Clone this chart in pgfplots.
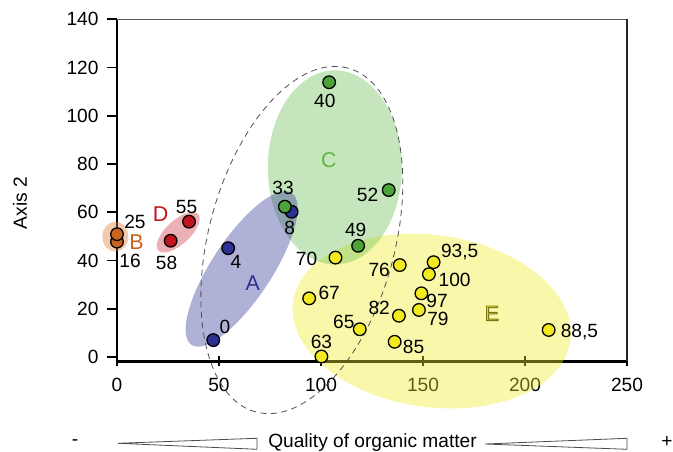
\documentclass[border=0pt]{standalone}
\usepackage{fontspec}
\setmainfont{Liberation Sans}
\usepackage{pgfplots}
\pgfplotsset{compat=1.18}
\usetikzlibrary{shapes.geometric}

\definecolor{cAm}{RGB}{46,49,146}
\definecolor{cBm}{RGB}{200,100,30}
\definecolor{cDm}{RGB}{193,22,30}
\definecolor{cCm}{RGB}{76,163,56}
\definecolor{cEm}{RGB}{242,234,30}
\definecolor{cAe}{RGB}{46,49,146}
\definecolor{cBe}{RGB}{220,130,60}
\definecolor{cDe}{RGB}{200,40,50}
\definecolor{cCe}{RGB}{93,185,70}
\definecolor{cEe}{RGB}{240,236,40}
\definecolor{cCl}{RGB}{100,180,70}
\definecolor{cEl}{RGB}{232,226,60}

\newcommand{\lbl}{\fontsize{19.2}{21}\selectfont}
\newcommand{\biglbl}{\fontsize{21.5}{23}\selectfont}

\tikzset{
  grp/.style={ellipse, draw=none, inner sep=0pt, outer sep=0pt},
  num/.style={font=\lbl, inner sep=0pt, anchor=center},
}
\pgfplotsset{
  pts/.style={only marks, mark=*, mark size=6.3bp,
    mark options={fill=#1, draw=black, line width=1.3bp}},
}

\begin{document}
\begin{tikzpicture}
\begin{axis}[
  scale only axis, width=510bp, height=342.2bp,
  xmin=0, xmax=250, ymin=-1.87, ymax=140,
  axis x line=bottom, axis y line=left,
  axis line style={-, line width=2.2bp, black},
  xtick={0,50,...,250}, ytick={0,20,...,140},
  tick style={line width=1.8bp, black},
  major tick length=10bp,
  xtick align=center, ytick align=outside,
  /pgf/number format/assume math mode=true,
  ticklabel style={font=\lbl},
  xticklabel style={yshift=-8bp},
  yticklabel style={xshift=-5bp},
  clip=false,
]
% group areas
\node[grp, fill=cEe, fill opacity=0.4, minimum width=280bp, minimum height=172bp, rotate=-8] at (axis cs:154.3,14.9) {};
\node[grp, fill=cCe, fill opacity=0.36, minimum width=134bp, minimum height=194bp] at (axis cs:106.8,78.6) {};
\node[grp, fill=cAe, fill opacity=0.38, minimum width=182bp, minimum height=60bp, rotate=56.6] at (axis cs:61.1,36.5) {};
\node[grp, fill=cBe, fill opacity=0.42, minimum width=26bp, minimum height=30bp] at (axis cs:-0.8,49.9) {};
\node[grp, fill=cDe, fill opacity=0.36, minimum width=54bp, minimum height=24bp, rotate=42.5] at (axis cs:30.0,51.7) {};
\node[grp, draw={rgb,255:red,80;green,80;blue,80}, line width=0.8bp, dash pattern=on 6bp off 4.5bp, minimum width=356bp, minimum height=186bp, rotate=75] at (axis cs:90.6,48.5) {};

% points
\addplot[pts=cAm] coordinates {(47.2,7.0) (54.5,45.1) (85.6,60.2)};
\addplot[pts=cBm] coordinates {(0,47.8) (0,50.9)};
\addplot[pts=cDm] coordinates {(35.3,56.1) (26.3,48.2)};
\addplot[pts=cCm] coordinates {(104.0,113.9) (82.3,62.3) (133.2,69.2) (118.2,46.1)};
\addplot[pts=cEm] coordinates {
  (107.1,41.2) (94.2,24.3) (100.2,0.2) (119.0,11.5) (138.6,38.1)
  (155.2,39.3) (152.9,34.3) (149.2,26.4) (148.0,19.5) (138.2,17.1)
  (136.1,6.3) (211.6,11.2)};

% point labels
\node[num] at (axis cs:52.9,12.6) {0};
\node[num] at (axis cs:58.3,39.5) {4};
\node[num] at (axis cs:84.7,53.6) {8};
\node[num] at (axis cs:81.4,69.9) {33};
\node[num] at (axis cs:34.1,62.1) {55};
\node[num] at (axis cs:24.3,39.1) {58};
\node[num] at (axis cs:8.8,55.8) {25};
\node[num] at (axis cs:6.4,39.8) {16};
\node[num] at (axis cs:101.9,106.3) {40};
\node[num] at (axis cs:122.8,67.2) {52};
\node[num] at (axis cs:117.0,52.7) {49};
\node[num] at (axis cs:92.9,40.5) {70};
\node[num] at (axis cs:104.0,26.4) {67};
\node[num] at (axis cs:111.2,14.6) {65};
\node[num] at (axis cs:100.2,6.3) {63};
\node[num] at (axis cs:128.5,36.1) {76};
\node[num] at (axis cs:128.5,20.2) {82};
\node[num] at (axis cs:145.4,4.3) {85};
\node[num] at (axis cs:157.3,15.6) {79};
\node[num] at (axis cs:156.9,23.3) {97};
\node[num] at (axis cs:165.5,31.9) {100};
\node[num] at (axis cs:168.0,43.7) {93,5};
\node[num] at (axis cs:226.7,10.5) {88,5};

% group letters
\node[font=\biglbl, text=cAm, inner sep=0pt] at (axis cs:66.5,30.6) {A};
\node[font=\biglbl, text=cBm, inner sep=0pt] at (axis cs:9.6,47.8) {B};
\node[font=\biglbl, text=cCl, inner sep=0pt] at (axis cs:103.8,81.7) {C};
\node[font=\biglbl, text=cDm, inner sep=0pt] at (axis cs:21.4,59.3) {D};
\node[font=\biglbl, text=cEl, inner sep=0pt] at (axis cs:183.8,18.1)
  {\special{pdf:literal direct 2 Tr 0.9 w 0.49 0.46 0.08 RG}E\special{pdf:literal direct 0 Tr}};
\end{axis}

\begin{scope}[shift={(current axis.south west)}, x=1bp, y=1bp]
  \path (-117,-90.5) rectangle (556,361.5);
  \draw[line width=1.2bp, black!65] (0,342.2) -- (510,342.2);
  \draw[line width=1.8bp, black!85] (510,342.2) -- (510,0);
  \node[font=\lbl, rotate=90, inner sep=0pt] at (-97,158.5) {Axis 2};
  \node[font=\lbl, inner sep=0pt] at (-42,-81.5) {-};
  \node[font=\lbl, inner sep=0pt] at (550,-80.5) {+};
  \node[font=\lbl, inner sep=0pt, anchor=base] at (255.5,-86.5) {Quality of organic matter};
  \draw[line width=0.8bp, black!70, fill=white] (1,-81.8) -- (140,-76.8) -- (140,-87.8) -- cycle;
  \draw[line width=0.8bp, black!70, fill=white] (368,-82.5) -- (510,-76.8) -- (510,-87.8) -- cycle;
\end{scope}
\end{tikzpicture}
\end{document}
